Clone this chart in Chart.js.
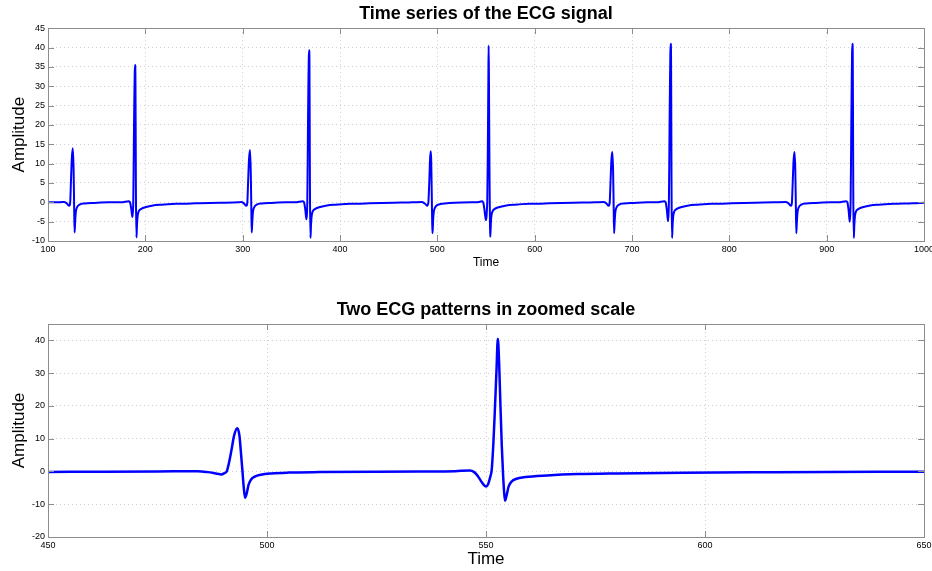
<!DOCTYPE html>
<html>
<head>
<meta charset="utf-8">
<title>ECG signal</title>
<script src="https://cdn.jsdelivr.net/npm/chart.js@4.4.0/dist/chart.umd.min.js"></script>
<style>
  html, body { margin: 0; padding: 0; background: #fff; overflow: hidden; }
  #top { position: absolute; left: 0; top: 0; width: 932px; height: 285px; }
  #bottom { position: absolute; left: 0; top: 285px; width: 932px; height: 286px; }
</style>
</head>
<body>
<div id="top"><canvas id="chartTop"></canvas></div>
<div id="bottom"><canvas id="chartBottom"></canvas></div>
<script>
// ECG signal (one line per beat)
const ecgTime = [
  100, 112,
  116.5, 119, 121.9, 122.8, 123.6, 124.5, 125.5, 126.3, 126.8, 127.3, 127.9, 128.6, 129.8, 132.5, 137.5, 147.5, 162,
  175.5, 183.1, 184.3, 185.6, 186.7, 187.2, 187.6, 188.0, 188.3, 188.7, 189.1, 189.5, 189.8, 190.1, 190.3, 190.4, 190.9, 191.4, 192.1, 193.3, 195.8, 200.8, 207.8, 216.5, 231.5, 251.5, 276.5, 296,
  298.5, 301, 303.9, 304.8, 305.6, 306.5, 307.5, 308.3, 308.8, 309.3, 309.9, 310.6, 311.8, 314.5, 319.5, 329.5, 344,
  354, 361.9, 363.1, 364.4, 365.5, 366.0, 366.4, 366.8, 367.1, 367.5, 367.9, 368.3, 368.6, 368.9, 369.1, 369.2, 369.7, 370.2, 370.9, 372.1, 374.6, 379.6, 386.6, 395.3, 410.3, 430.3, 455.3, 475,
  484.2, 486.5, 488.3, 489.6, 490.3, 490.8, 491.3, 491.9, 492.5, 493.2, 493.7, 494.0, 494.4, 494.7, 495.0, 495.4, 495.8, 496.4, 497.2, 498.6, 501, 505, 512, 525, 535,
  538, 543, 546.3, 547.3, 548.2, 549.0, 550.0, 550.5, 551.0, 551.3, 551.7, 552.0, 552.4, 552.7, 553.0, 553.3, 553.6, 553.9, 554.15, 554.35, 554.7, 555.2, 555.9, 556.8, 559, 564, 571, 580, 595, 615, 640, 662,
  670.8, 673.3, 676.2, 677.1, 677.9, 678.8, 679.8, 680.6, 681.1, 681.6, 682.2, 682.9, 684.1, 686.8, 691.8, 701.8, 716,
  725.5, 733.4, 734.6, 735.9, 737.0, 737.5, 737.9, 738.3, 738.6, 739.0, 739.4, 739.8, 740.1, 740.4, 740.6, 740.7, 741.2, 741.7, 742.4, 743.6, 746.1, 751.1, 758.1, 766.8, 781.8, 801.8, 826.8, 846,
  858, 860.5, 863.4, 864.3, 865.1, 866, 867, 867.8, 868.3, 868.8, 869.4, 870.1, 871.3, 874, 879, 889, 904,
  912, 920.1, 921.3, 922.6, 923.7, 924.2, 924.6, 925.0, 925.3, 925.7, 926.1, 926.5, 926.8, 927.1, 927.3, 927.4, 927.9, 928.4, 929.1, 930.3, 932.8, 937.8, 944.8, 953.5, 968.5, 988.5, 1000
];
const ecgAmp = [
  0, 0,
  0.1, -0.2, -0.9, 0, 5.5, 11.5, 14.0, 8.5, 0, -7.8, -5, -2.5, -1.3, -0.6, -0.3, -0.15, 0,
  0, 0.3, 0, -1.8, -3.8, -2.5, 0, 9, 18, 27, 33.5, 35.5, 33.5, 17, 4, 0, -9.1, -6, -3.5, -2.3, -1.7, -1.2, -0.8, -0.6, -0.4, -0.25, -0.1, 0,
  0.1, -0.2, -0.9, 0, 5.3, 11, 13.5, 8.2, 0, -7.8, -5, -2.5, -1.3, -0.6, -0.3, -0.15, 0,
  0, 0.3, 0, -2, -4.4, -3, 0, 10, 20, 30, 37, 39.3, 37, 19, 5, 0, -9.2, -6, -3.5, -2.3, -1.7, -1.2, -0.8, -0.6, -0.4, -0.25, -0.1, 0,
  0.1, -0.2, -0.6, -0.9, -0.5, 0, 2.5, 6.6, 11, 13.2, 11, 6.6, 0, -5, -8.0, -6.5, -4, -2.4, -1.6, -1.0, -0.6, -0.35, -0.2, -0.05, 0,
  0, 0.1, 0.3, -0.2, -1.5, -3.2, -4.6, -3.8, -1.5, 0.5, 9, 18, 31, 40.5, 33, 20, 8, -1, -6.5, -8.9, -7.3, -4.5, -3.0, -2.3, -1.7, -1.2, -0.8, -0.6, -0.4, -0.25, -0.1, 0,
  0.1, -0.2, -0.9, 0, 5, 10.8, 13.0, 8, 0, -8.0, -5, -2.5, -1.3, -0.6, -0.3, -0.15, 0,
  0, 0.3, 0, -2.2, -4.9, -3.2, 0, 10, 20, 30, 38.5, 41.0, 38.5, 20, 5, 0, -9.2, -6, -3.5, -2.3, -1.7, -1.2, -0.8, -0.6, -0.4, -0.25, -0.1, 0,
  0.1, -0.2, -0.9, 0, 5, 10.8, 13.0, 8, 0, -8.0, -5, -2.5, -1.3, -0.6, -0.3, -0.15, 0,
  0, 0.3, 0, -2.2, -5.0, -3.2, 0, 10, 20, 30, 38.5, 41.0, 38.5, 20, 5, 0, -9.2, -6, -3.5, -2.3, -1.7, -1.2, -0.8, -0.6, -0.4, -0.25, -0.1
];

// ticks
const topXTicks = [100, 200, 300, 400, 500, 600, 700, 800, 900, 1000];
const topYTicks = [-10, -5, 0, 5, 10, 15, 20, 25, 30, 35, 40, 45];
const bottomXTicks = [450, 500, 550, 600, 650];
const bottomYTicks = [-20, -10, 0, 10, 20, 30, 40];

const FONT = "'Liberation Sans', Arial, Helvetica, sans-serif";

// box and inward ticks, MATLAB style
const boxPlugin = {
  id: 'matlabBox',
  afterDatasetsDraw(chart, args, opts) {
    const { ctx, chartArea: a, scales } = chart;
    const len = opts.tickLength;
    ctx.save();
    ctx.strokeStyle = opts.color;
    ctx.lineWidth = 1;
    ctx.beginPath();
    scales.x.ticks.forEach(t => {
      const px = Math.round(scales.x.getPixelForValue(t.value)) + 0.5;
      ctx.moveTo(px, a.bottom); ctx.lineTo(px, a.bottom - len);
      ctx.moveTo(px, a.top); ctx.lineTo(px, a.top + len);
    });
    scales.y.ticks.forEach(t => {
      const py = Math.round(scales.y.getPixelForValue(t.value)) + 0.5;
      ctx.moveTo(a.left, py); ctx.lineTo(a.left + len, py);
      ctx.moveTo(a.right, py); ctx.lineTo(a.right - len, py);
    });
    ctx.stroke();
    ctx.strokeRect(Math.round(a.left) + 0.5, Math.round(a.top) + 0.5, Math.round(a.width), Math.round(a.height));
    ctx.restore();
  }
};

function makeChart(id, cfg) {
  const points = ecgTime.map((t, i) => ({ x: t, y: ecgAmp[i] }));
  return new Chart(document.getElementById(id), {
    type: 'line',
    data: {
      datasets: [{
        data: points,
        borderColor: '#0000ff',
        borderWidth: cfg.lineWidth,
        pointRadius: 0,
        cubicInterpolationMode: 'monotone',
        fill: false
      }]
    },
    options: {
      responsive: true,
      maintainAspectRatio: false,
      animation: false,
      layout: { padding: { left: 0, right: 8, top: 0, bottom: 0 } },
      plugins: {
        legend: { display: false },
        tooltip: { enabled: false },
        title: {
          display: true,
          text: cfg.title,
          fullSize: false,
          color: '#000',
          font: { family: FONT, size: 18, weight: 'bold' },
          padding: cfg.titlePadding
        },
        matlabBox: { tickLength: 6, color: '#8c8c8c' }
      },
      scales: {
        x: {
          type: 'linear',
          min: cfg.xMin,
          max: cfg.xMax,
          afterBuildTicks: s => { s.ticks = cfg.xTicks.map(v => ({ value: v })); },
          afterFit: s => { s.height = cfg.xAxisHeight; s.paddingLeft = 0; s.paddingRight = 0; },
          grid: { color: '#cfcfcf', lineWidth: 1, drawTicks: false },
          border: { display: false, dash: [1, 3] },
          ticks: {
            color: '#000',
            font: { family: FONT, size: cfg.xTickSize },
            padding: cfg.xTickPad,
            maxRotation: 0,
            autoSkip: false,
            callback: v => String(v)
          },
          title: {
            display: true,
            text: 'Time',
            color: '#000',
            font: { family: FONT, size: cfg.xTitleSize },
            padding: { top: 0, bottom: cfg.xTitlePad }
          }
        },
        y: {
          type: 'linear',
          min: cfg.yMin,
          max: cfg.yMax,
          afterBuildTicks: s => { s.ticks = cfg.yTicks.map(v => ({ value: v })); },
          afterFit: s => { s.width = 48; s.paddingTop = 0; s.paddingBottom = 0; },
          grid: { color: '#cfcfcf', lineWidth: 1, drawTicks: false },
          border: { display: false, dash: [1, 3] },
          ticks: {
            color: '#000',
            font: { family: FONT, size: 9 },
            padding: 3,
            callback: v => String(v)
          },
          title: {
            display: true,
            text: 'Amplitude',
            color: '#000',
            font: { family: FONT, size: 17 },
            padding: { top: 9, bottom: 0 }
          }
        }
      }
    },
    plugins: [boxPlugin]
  });
}

makeChart('chartTop', {
  title: 'Time series of the ECG signal',
  titlePadding: { top: 3, bottom: 3.6 },
  xMin: 100, xMax: 1000, xTicks: topXTicks,
  yMin: -10, yMax: 45, yTicks: topYTicks,
  xAxisHeight: 44, xTickSize: 9, xTickPad: 3,
  xTitleSize: 12, xTitlePad: 15,
  lineWidth: 2
});

makeChart('chartBottom', {
  title: 'Two ECG patterns in zoomed scale',
  titlePadding: { top: 14.2, bottom: 3.2 },
  xMin: 450, xMax: 650, xTicks: bottomXTicks,
  yMin: -20, yMax: 45, yTicks: bottomYTicks,
  xAxisHeight: 34, xTickSize: 9, xTickPad: 3,
  xTitleSize: 17, xTitlePad: 1,
  lineWidth: 2.5
});
</script>
</body>
</html>
